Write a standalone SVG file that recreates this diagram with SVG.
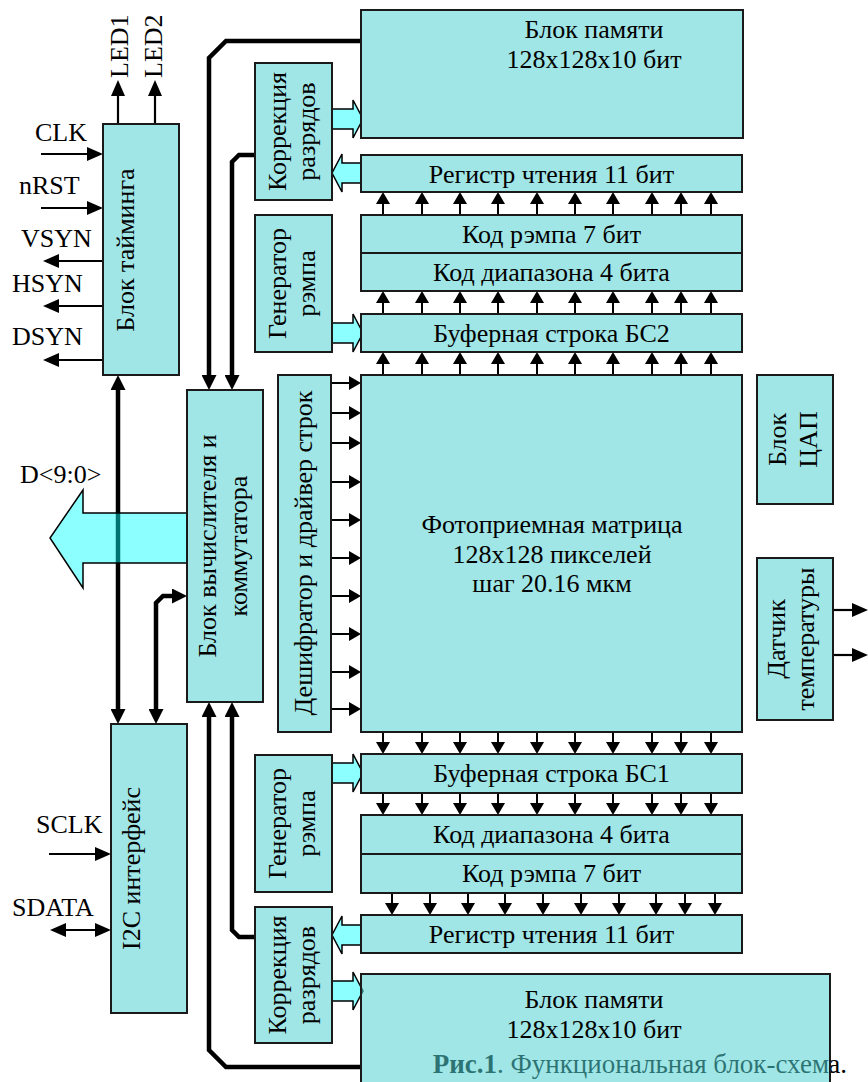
<svg xmlns="http://www.w3.org/2000/svg" width="868" height="1082" viewBox="0 0 868 1082">
<style>
.box{fill:#a0e6e6;stroke:#1a1a1a;stroke-width:2}
.tbox{fill:#52d1d1;fill-opacity:0.55;stroke:#1a1a1a;stroke-width:2}
.t{font-family:'Liberation Serif','Times New Roman',Tinos,'DejaVu Serif',serif;font-size:26px;fill:#000}
.m{text-anchor:middle}
.cap{font-family:'Liberation Serif','Times New Roman',Tinos,'DejaVu Serif',serif;font-size:27px;fill:#000;text-anchor:end}
.bus{stroke:#000;stroke-width:4.5;fill:none}
.sig{stroke:#000;stroke-width:2.2;fill:none}
.row{stroke:#000;stroke-width:2;fill:none}
.blk{fill:#8cffff;stroke:#000;stroke-width:1.5}
.big{fill:#00ffff;fill-opacity:0.45;stroke:#000;stroke-width:1.5}
</style>
<defs>
<marker id="ba" markerUnits="userSpaceOnUse" markerWidth="15" markerHeight="15" refX="5" refY="7.5" orient="auto-start-reverse"><path d="M0,0 L15,7.5 L0,15 z" fill="#000"/></marker>
<marker id="sa" markerUnits="userSpaceOnUse" markerWidth="16" markerHeight="14" refX="8" refY="7" orient="auto-start-reverse"><path d="M0,0 L16,7 L0,14 z" fill="#000"/></marker>
<marker id="ra" markerUnits="userSpaceOnUse" markerWidth="12" markerHeight="14" refX="4" refY="7" orient="auto"><path d="M0,0 L12,7 L0,14 z" fill="#000"/></marker>
</defs>

<text class="cap" y="1073"><tspan x="829"><tspan font-weight="bold">Рис.1</tspan>. Функциональная блок-схем</tspan><tspan x="847">а.</tspan></text>

<g id="connectors">
  <path class="bus" d="M361,41 H226 L209,58 V380" marker-end="url(#ba)"/>
  <path class="bus" d="M255,155 H239 L232,162 V380" marker-end="url(#ba)"/>
  <path class="bus" d="M361,1067 H226 L209,1050 V712" marker-end="url(#ba)"/>
  <path class="bus" d="M255,937 H239 L232,930 V712" marker-end="url(#ba)"/>
  <path class="bus" d="M118,385 V714" marker-start="url(#ba)" marker-end="url(#ba)"/>
  <path class="bus" d="M156,714 V603 L163,596 H177" marker-start="url(#ba)" marker-end="url(#ba)"/>
  <path class="sig" d="M118,124 V88" marker-end="url(#sa)"/>
  <path class="sig" d="M155,124 V88" marker-end="url(#sa)"/>
  <path class="sig" d="M41,154 H95" marker-end="url(#sa)"/>
  <path class="sig" d="M41,208 H95" marker-end="url(#sa)"/>
  <path class="sig" d="M103,261 H51" marker-end="url(#sa)"/>
  <path class="sig" d="M103,306 H51" marker-end="url(#sa)"/>
  <path class="sig" d="M103,360 H51" marker-end="url(#sa)"/>
  <path class="sig" d="M49,854 H103" marker-end="url(#sa)"/>
  <path class="sig" d="M58,930 H103" marker-start="url(#sa)" marker-end="url(#sa)"/>
  <path class="sig" d="M833,610 H860" marker-end="url(#sa)"/>
  <path class="sig" d="M833,655 H860" marker-end="url(#sa)"/>
  <path class="row" marker-end="url(#ra)" d="M383,215V200"/>
  <path class="row" marker-end="url(#ra)" d="M422,215V200"/>
  <path class="row" marker-end="url(#ra)" d="M460,215V200"/>
  <path class="row" marker-end="url(#ra)" d="M498,215V200"/>
  <path class="row" marker-end="url(#ra)" d="M537,215V200"/>
  <path class="row" marker-end="url(#ra)" d="M575,215V200"/>
  <path class="row" marker-end="url(#ra)" d="M613,215V200"/>
  <path class="row" marker-end="url(#ra)" d="M652,215V200"/>
  <path class="row" marker-end="url(#ra)" d="M681,215V200"/>
  <path class="row" marker-end="url(#ra)" d="M711,215V200"/>
  <path class="row" marker-end="url(#ra)" d="M383,314V299"/>
  <path class="row" marker-end="url(#ra)" d="M422,314V299"/>
  <path class="row" marker-end="url(#ra)" d="M460,314V299"/>
  <path class="row" marker-end="url(#ra)" d="M498,314V299"/>
  <path class="row" marker-end="url(#ra)" d="M537,314V299"/>
  <path class="row" marker-end="url(#ra)" d="M575,314V299"/>
  <path class="row" marker-end="url(#ra)" d="M613,314V299"/>
  <path class="row" marker-end="url(#ra)" d="M652,314V299"/>
  <path class="row" marker-end="url(#ra)" d="M681,314V299"/>
  <path class="row" marker-end="url(#ra)" d="M711,314V299"/>
  <path class="row" marker-end="url(#ra)" d="M383,375V360"/>
  <path class="row" marker-end="url(#ra)" d="M422,375V360"/>
  <path class="row" marker-end="url(#ra)" d="M460,375V360"/>
  <path class="row" marker-end="url(#ra)" d="M498,375V360"/>
  <path class="row" marker-end="url(#ra)" d="M537,375V360"/>
  <path class="row" marker-end="url(#ra)" d="M575,375V360"/>
  <path class="row" marker-end="url(#ra)" d="M613,375V360"/>
  <path class="row" marker-end="url(#ra)" d="M652,375V360"/>
  <path class="row" marker-end="url(#ra)" d="M681,375V360"/>
  <path class="row" marker-end="url(#ra)" d="M711,375V360"/>
  <path class="row" marker-end="url(#ra)" d="M383,732V746"/>
  <path class="row" marker-end="url(#ra)" d="M422,732V746"/>
  <path class="row" marker-end="url(#ra)" d="M460,732V746"/>
  <path class="row" marker-end="url(#ra)" d="M498,732V746"/>
  <path class="row" marker-end="url(#ra)" d="M537,732V746"/>
  <path class="row" marker-end="url(#ra)" d="M575,732V746"/>
  <path class="row" marker-end="url(#ra)" d="M613,732V746"/>
  <path class="row" marker-end="url(#ra)" d="M652,732V746"/>
  <path class="row" marker-end="url(#ra)" d="M681,732V746"/>
  <path class="row" marker-end="url(#ra)" d="M711,732V746"/>
  <path class="row" marker-end="url(#ra)" d="M383,793V807"/>
  <path class="row" marker-end="url(#ra)" d="M422,793V807"/>
  <path class="row" marker-end="url(#ra)" d="M460,793V807"/>
  <path class="row" marker-end="url(#ra)" d="M498,793V807"/>
  <path class="row" marker-end="url(#ra)" d="M537,793V807"/>
  <path class="row" marker-end="url(#ra)" d="M575,793V807"/>
  <path class="row" marker-end="url(#ra)" d="M613,793V807"/>
  <path class="row" marker-end="url(#ra)" d="M652,793V807"/>
  <path class="row" marker-end="url(#ra)" d="M681,793V807"/>
  <path class="row" marker-end="url(#ra)" d="M711,793V807"/>
  <path class="row" marker-end="url(#ra)" d="M392,893V907"/>
  <path class="row" marker-end="url(#ra)" d="M430,893V907"/>
  <path class="row" marker-end="url(#ra)" d="M468,893V907"/>
  <path class="row" marker-end="url(#ra)" d="M505,893V907"/>
  <path class="row" marker-end="url(#ra)" d="M543,893V907"/>
  <path class="row" marker-end="url(#ra)" d="M581,893V907"/>
  <path class="row" marker-end="url(#ra)" d="M619,893V907"/>
  <path class="row" marker-end="url(#ra)" d="M656,893V907"/>
  <path class="row" marker-end="url(#ra)" d="M685,893V907"/>
  <path class="row" marker-end="url(#ra)" d="M715,893V907"/>
  <path class="row" marker-end="url(#ra)" d="M331,383H353"/>
  <path class="row" marker-end="url(#ra)" d="M331,413H353"/>
  <path class="row" marker-end="url(#ra)" d="M331,443H353"/>
  <path class="row" marker-end="url(#ra)" d="M331,482H353"/>
  <path class="row" marker-end="url(#ra)" d="M331,520H353"/>
  <path class="row" marker-end="url(#ra)" d="M331,558H353"/>
  <path class="row" marker-end="url(#ra)" d="M331,596H353"/>
  <path class="row" marker-end="url(#ra)" d="M331,634H353"/>
  <path class="row" marker-end="url(#ra)" d="M331,672H353"/>
  <path class="row" marker-end="url(#ra)" d="M331,709H353"/>
  <polygon class="blk" points="332,109 353,109 353,100 363,119 353,138 353,129 332,129"/>
  <polygon class="blk" points="361,163 342,163 342,154 332,173 342,192 342,183 361,183"/>
  <polygon class="blk" points="332,323 353,323 353,314 363,333 353,352 353,343 332,343"/>
  <polygon class="blk" points="332,763 353,763 353,754 363,773 353,792 353,783 332,783"/>
  <polygon class="blk" points="361,925 342,925 342,916 332,935 342,954 342,945 361,945"/>
  <polygon class="blk" points="332,981 353,981 353,972 363,991 353,1010 353,1001 332,1001"/>
  <polygon class="big" points="187,513 83,513 83,490 50,538 83,588 83,563 187,563"/>
</g>

<g id="labels" class="t">
  <text transform="translate(128,78) rotate(-90)">LED1</text>
  <text transform="translate(162,78) rotate(-90)">LED2</text>
  <text x="35" y="141">CLK</text>
  <text x="19" y="194">nRST</text>
  <text x="21" y="247">VSYN</text>
  <text x="12" y="292">HSYN</text>
  <text x="12" y="345">DSYN</text>
  <text x="20" y="483">D&lt;9:0&gt;</text>
  <text x="36" y="833">SCLK</text>
  <text x="12" y="916">SDATA</text>
</g>

<g id="timing">
  <rect class="box" x="103" y="124" width="76" height="251"/>
  <text class="t m" transform="translate(141,250) rotate(-90)" y="-7">Блок тайминга</text>
</g>
<g id="mem-top">
  <rect class="box" x="361" y="10" width="382" height="128"/>
  <text class="t m" x="594" y="38">Блок памяти</text>
  <text class="t m" x="594" y="68">128x128x10 бит</text>
</g>
<g id="corr-top">
  <rect class="box" x="255" y="63" width="77" height="137"/>
  <text class="t m" transform="translate(293.5,131.5) rotate(-90)"><tspan x="0" y="-7.5">Коррекция</tspan><tspan x="0" y="21.5">разрядов</tspan></text>
</g>
<g id="reg-top">
  <rect class="box" x="361" y="155" width="381" height="37"/>
  <text class="t m" x="551.5" y="183">Регистр чтения 11 бит</text>
</g>
<g id="gen-top">
  <rect class="box" x="255" y="215" width="77" height="137"/>
  <text class="t m" transform="translate(293.5,283.5) rotate(-90)"><tspan x="0" y="-7.5">Генератор</tspan><tspan x="0" y="21.5">рэмпа</tspan></text>
</g>
<g id="ramp-top">
  <rect class="box" x="361" y="215" width="381" height="38"/>
  <text class="t m" x="551.5" y="243">Код рэмпа 7 бит</text>
</g>
<g id="range-top">
  <rect class="box" x="361" y="253" width="381" height="38"/>
  <text class="t m" x="551.5" y="281">Код диапазона 4 бита</text>
</g>
<g id="bs2">
  <rect class="box" x="361" y="314" width="381" height="38"/>
  <text class="t m" x="551.5" y="342">Буферная строка БС2</text>
</g>
<g id="compute">
  <rect class="box" x="187" y="390" width="76" height="312"/>
  <text class="t m" transform="translate(225,546) rotate(-90)"><tspan x="0" y="-9">Блок вычислителя и</tspan><tspan x="0" y="22">коммутатора</tspan></text>
</g>
<g id="decoder">
  <rect class="box" x="278" y="375" width="53" height="357"/>
  <text class="t m" transform="translate(304.5,553) rotate(-90)" y="7.5">Дешифратор и драйвер строк</text>
</g>
<g id="matrix">
  <rect class="box" x="361" y="375" width="381" height="357"/>
  <text class="t m" x="552" y="533">Фотоприемная матрица</text>
  <text class="t m" x="552" y="563">128x128 пикселей</text>
  <text class="t m" x="552" y="592">шаг 20.16 мкм</text>
</g>
<g id="dac">
  <rect class="box" x="757" y="375" width="76" height="129"/>
  <text class="t m" transform="translate(795,439.5) rotate(-90)"><tspan x="0" y="-9">Блок</tspan><tspan x="0" y="22">ЦАП</tspan></text>
</g>
<g id="temp">
  <rect class="box" x="757" y="558" width="76" height="162"/>
  <text class="t m" transform="translate(795,639) rotate(-90)"><tspan x="0" y="-10">Датчик</tspan><tspan x="0" y="19">температуры</tspan></text>
</g>
<g id="i2c">
  <rect class="box" x="111" y="724" width="76" height="289"/>
  <text class="t m" transform="translate(149,868.5) rotate(-90)" y="-9">I2C интерфейс</text>
</g>
<g id="bs1">
  <rect class="box" x="361" y="754" width="381" height="39"/>
  <text class="t m" x="551.5" y="782">Буферная строка БС1</text>
</g>
<g id="gen-bot">
  <rect class="box" x="255" y="755" width="77" height="137"/>
  <text class="t m" transform="translate(293.5,823.5) rotate(-90)"><tspan x="0" y="-7.5">Генератор</tspan><tspan x="0" y="21.5">рэмпа</tspan></text>
</g>
<g id="range-bot">
  <rect class="box" x="361" y="815" width="381" height="39"/>
  <text class="t m" x="551.5" y="843">Код диапазона 4 бита</text>
</g>
<g id="ramp-bot">
  <rect class="box" x="361" y="854" width="381" height="39"/>
  <text class="t m" x="551.5" y="882">Код рэмпа 7 бит</text>
</g>
<g id="reg-bot">
  <rect class="box" x="361" y="915" width="381" height="38"/>
  <text class="t m" x="551.5" y="943">Регистр чтения 11 бит</text>
</g>
<g id="corr-bot">
  <rect class="box" x="255" y="907" width="77" height="136"/>
  <text class="t m" transform="translate(293.5,975) rotate(-90)"><tspan x="0" y="-7.5">Коррекция</tspan><tspan x="0" y="21.5">разрядов</tspan></text>
</g>
<g id="mem-bot">
  <rect class="tbox" x="361" y="974" width="469" height="124"/>
  <text class="t m" x="594" y="1008">Блок памяти</text>
  <text class="t m" x="594" y="1038">128x128x10 бит</text>
</g>
</svg>
